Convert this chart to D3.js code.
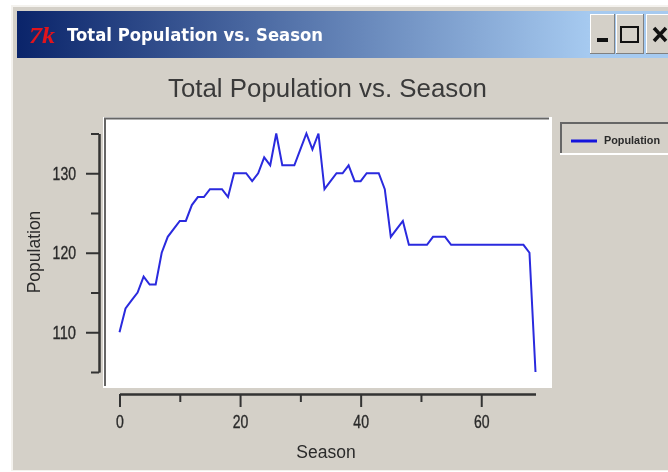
<!DOCTYPE html>
<html>
<head>
<meta charset="utf-8">
<script src="https://cdn.jsdelivr.net/npm/d3@7"></script>
<style>
  html, body { margin: 0; padding: 0; background: #fff; }
  svg { display: block; filter: blur(0.45px); }
  text { font-family: "Liberation Sans", Arial, sans-serif; fill: #2a2a2a; }
  .ticks text { font-size: 18px; stroke: #2a2a2a; stroke-width: 0.35px; }
</style>
</head>
<body>
<svg id="chart" width="668" height="472"></svg>
<script>
// Chart data
const seasons = d3.range(0, 70);
const population = [
  110, 113, 114, 115, 117, 116, 116, 120, 122, 123,
  124, 124, 126, 127, 127, 128, 128, 128, 127, 130,
  130, 130, 129, 130, 132, 131, 135, 131, 131, 131,
  133, 135, 133, 135, 128, 129, 130, 130, 131, 129,
  129, 130, 130, 130, 128, 122, 123, 124, 121, 121,
  121, 121, 122, 122, 122, 121, 121, 121, 121, 121,
  121, 121, 121, 121, 121, 121, 121, 121, 120, 105
];
const xMajor = [0, 20, 40, 60];
const xMinor = [10, 30, 50];
const yMajor = [110, 120, 130];
const yMinor = [105, 115, 125, 135];

const chartTitle = "Total Population vs. Season";
const xLabel = "Season";
const yLabel = "Population";
const legendLabel = "Population";

const bg = "#d4d0c8";
const axisColor = "#333";
const lineColor = "#2a2ade";

const svg = d3.select("#chart");

// Scales
const xScale = d3.scaleLinear().domain([0, 69]).range([119.5, 535.5]);
const yScale = d3.scaleLinear().domain([105, 135]).range([372, 133.5]);

// Window frame
svg.append("rect").attr("x", 11).attr("y", 5).attr("width", 657).attr("height", 466).attr("fill", "#f4f2ee");
svg.append("rect").attr("x", 13).attr("y", 7).attr("width", 655).attr("height", 463).attr("fill", bg);

const grad = svg.append("defs").append("linearGradient").attr("id", "titlebar");
grad.append("stop").attr("offset", "0%").attr("stop-color", "#0a246a");
grad.append("stop").attr("offset", "88%").attr("stop-color", "#a6caf0");
grad.append("stop").attr("offset", "100%").attr("stop-color", "#a6caf0");

svg.append("rect").attr("x", 17).attr("y", 11).attr("width", 651).attr("height", 47).attr("fill", "url(#titlebar)");

svg.append("text")
  .attr("x", 29).attr("y", 43)
  .attr("font-size", 24).attr("font-style", "italic").attr("font-weight", "bold")
  .style("font-family", "Liberation Serif, serif")
  .style("fill", "#e0141c")
  .attr("textLength", 26).attr("lengthAdjust", "spacingAndGlyphs")
  .text("7k");

svg.append("text")
  .attr("x", 67).attr("y", 41)
  .attr("font-size", 17).attr("font-weight", "bold")
  .style("font-family", "DejaVu Sans, sans-serif")
  .style("fill", "#fff")
  .attr("textLength", 256).attr("lengthAdjust", "spacingAndGlyphs")
  .text(chartTitle);

// Title bar buttons
function button(x, w) {
  svg.append("rect").attr("x", x).attr("y", 14).attr("width", w).attr("height", 40).attr("fill", "#808080");
  svg.append("rect").attr("x", x).attr("y", 14).attr("width", w - 1).attr("height", 39).attr("fill", "#fff");
  svg.append("rect").attr("x", x + 1).attr("y", 15).attr("width", w - 2).attr("height", 38).attr("fill", bg);
}
button(590, 25);
button(616, 28);
button(646, 30);
svg.append("rect").attr("x", 597).attr("y", 38).attr("width", 11).attr("height", 4).attr("fill", "#111");
svg.append("rect").attr("x", 621).attr("y", 27).attr("width", 17).attr("height", 15)
  .attr("fill", "none").attr("stroke", "#111").attr("stroke-width", 2);
svg.append("path").attr("d", "M654,28L666,41M666,28L654,41")
  .attr("stroke", "#111").attr("stroke-width", 3.5).attr("fill", "none");

// Chart title
svg.append("text")
  .attr("x", 327.5).attr("y", 97)
  .attr("text-anchor", "middle").attr("font-size", 25.6)
  .style("fill", "#3a3a3a")
  .attr("textLength", 319).attr("lengthAdjust", "spacingAndGlyphs")
  .text(chartTitle);

// Plot area, sunken border
svg.append("rect").attr("x", 103).attr("y", 117).attr("width", 449).attr("height", 271).attr("fill", "#fff");
svg.append("path").attr("d", "M105,386V118.5H549")
  .attr("fill", "none").attr("stroke", "#666").attr("stroke-width", 2);

// Axes
function drawAxis(axis, major, minor, transform, padding) {
  const majorG = svg.append("g").attr("class", "ticks").attr("transform", transform)
    .call(axis.tickValues(major).tickSizeInner(13).tickPadding(padding).tickFormat(d3.format("d")));
  const minorG = svg.append("g").attr("transform", transform)
    .call(axis.tickValues(minor).tickSizeInner(8).tickFormat(""));
  [majorG, minorG].forEach(g => {
    g.selectAll("line").attr("stroke", axisColor).attr("stroke-width", 2);
    g.selectAll("path").attr("stroke", axisColor).attr("stroke-width", 2);
  });
  // the labels are a squeezed face in the original
  majorG.selectAll("text")
    .style("fill", "#2a2a2a")
    .attr("textLength", d => String(d).length * 7.8)
    .attr("lengthAdjust", "spacingAndGlyphs");
}
drawAxis(d3.axisBottom(xScale).tickSizeOuter(0), xMajor, xMinor, "translate(0,394)", 8);
drawAxis(d3.axisLeft(yScale).tickSizeOuter(0), yMajor, yMinor, "translate(99,0)", 10);

svg.append("text")
  .attr("x", 326).attr("y", 458)
  .attr("text-anchor", "middle").attr("font-size", 17.5)
  .text(xLabel);

svg.append("text")
  .attr("transform", "translate(40,252) rotate(-90)")
  .attr("text-anchor", "middle").attr("font-size", 17.5)
  .text(yLabel);

// Population line
const line = d3.line()
  .x((d, i) => xScale(seasons[i]))
  .y(d => yScale(d));

svg.append("path")
  .datum(population)
  .attr("d", line)
  .attr("fill", "none")
  .attr("stroke", lineColor)
  .attr("stroke-width", 2);

// Legend
svg.append("rect").attr("x", 560).attr("y", 123).attr("width", 108).attr("height", 32).attr("fill", "#fff");
svg.append("rect").attr("x", 560).attr("y", 122).attr("width", 108).attr("height", 31).attr("fill", "#666");
svg.append("rect").attr("x", 562).attr("y", 124).attr("width", 106).attr("height", 29).attr("fill", bg);
svg.append("line")
  .attr("x1", 571).attr("x2", 597).attr("y1", 141).attr("y2", 141)
  .attr("stroke", "#1414dc").attr("stroke-width", 3);
svg.append("text")
  .attr("x", 604).attr("y", 144)
  .attr("font-size", 11).attr("font-weight", "bold")
  .attr("textLength", 56).attr("lengthAdjust", "spacingAndGlyphs")
  .text(legendLabel);
</script>
</body>
</html>
